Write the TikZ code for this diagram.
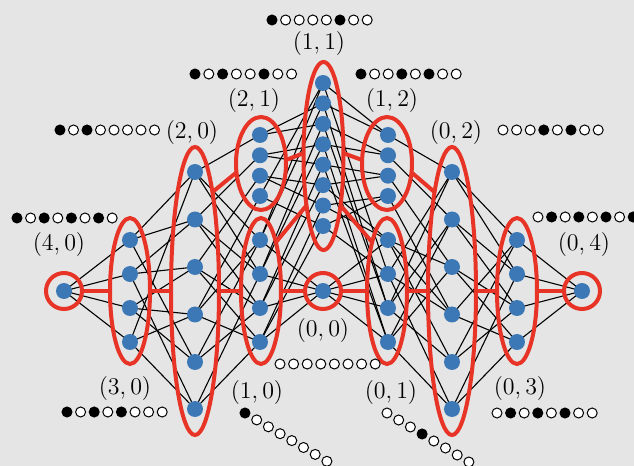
\documentclass[tikz,border=0pt]{standalone}
\usetikzlibrary{shapes.geometric,backgrounds}
\definecolor{bgc}{RGB}{229,229,229}
\definecolor{dotblue}{RGB}{59,120,181}
\definecolor{ringred}{RGB}{232,52,38}
\pgfdeclarelayer{edges}
\pgfsetlayers{background,edges,main}
\tikzset{
  site/.style={circle,fill=dotblue,inner sep=0pt,outer sep=0pt,minimum size=8pt},
  hop/.style={black,line width=0.55pt},
  sector/.style={ellipse,draw=ringred,line width=2pt,inner sep=0pt,outer sep=0pt},
  ring/.style={circle,draw=ringred,line width=2pt,inner sep=0pt,outer sep=0pt,minimum size=18pt},
  link/.style={ringred,line width=2pt},
  occ/.style={circle,draw=black,line width=0.5pt,inner sep=0pt,minimum size=5pt,fill=white},
  full/.style={occ,fill=black},
  lbl/.style={font=\fontsize{12}{14}\selectfont,inner sep=0pt},
}
\begin{document}
\begin{tikzpicture}[x=0.5pt,y=-0.5pt]
\begin{pgfonlayer}{background}
  \fill[bgc] (0,0) rectangle (634,466);
\end{pgfonlayer}
\useasboundingbox (0,0) rectangle (634,466);

% ---- sites (basis states), grouped by sector (n_even, n_odd)
\node[site] (s40) at (64,291) {};
\foreach \i/\yy in {1/240,2/274,3/308,4/342} \node[site] (s30-\i) at (130,\yy) {};
\foreach \i/\yy in {1/172,2/219.5,3/267,4/314.5,5/362,6/409} \node[site] (s20-\i) at (195,\yy) {};
\foreach \i/\yy in {1/240,2/274,3/308,4/342} \node[site] (s10-\i) at (260,\yy) {};
\foreach \i/\yy in {1/135,2/155.3,3/175.7,4/196} \node[site] (s21-\i) at (260,\yy) {};
\foreach \i/\yy in {1/83,2/103.4,3/123.9,4/144.3,5/164.7,6/185.1,7/205.6,8/226} \node[site] (s11-\i) at (323,\yy) {};
\node[site] (s00) at (323,291) {};
\foreach \i/\yy in {1/135,2/155.3,3/175.7,4/196} \node[site] (s12-\i) at (388,\yy) {};
\foreach \i/\yy in {1/240,2/274,3/308,4/342} \node[site] (s01-\i) at (388,\yy) {};
\foreach \i/\yy in {1/172,2/219.5,3/267,4/314.5,5/362,6/409} \node[site] (s02-\i) at (452,\yy) {};
\foreach \i/\yy in {1/240,2/274,3/308,4/342} \node[site] (s03-\i) at (517,\yy) {};
\node[site] (s04) at (582,291) {};

% ---- single-flip transitions
\begin{pgfonlayer}{edges}
\foreach \j in {1,...,4} \draw[hop] (s40.center) -- (s30-\j.center);
\foreach \a/\b in {1/1,1/2,1/5,2/2,2/3,2/6,3/3,3/4,3/5,4/1,4/4,4/6}
  \draw[hop] (s30-\a.center) -- (s20-\b.center);
\foreach \a/\b in {1/1,1/2,2/2,2/3,3/3,3/4,4/1,4/4,5/1,5/3,6/2,6/4}
  \draw[hop] (s20-\a.center) -- (s10-\b.center);
\foreach \j in {1,...,4} \draw[hop] (s10-\j.center) -- (s00.center);
\foreach \j in {1,...,4} \draw[hop] (s21-\j.center) -- (s20-\j.center);
\foreach \a/\b in {1/2,1/3,2/4,2/5,3/6,3/7,4/1,4/8}
  \draw[hop] (s21-\a.center) -- (s11-\b.center);
\foreach \a/\b in {1/1,1/2,2/3,2/4,3/5,3/6,4/7,4/8}
  \draw[hop] (s10-\a.center) -- (s11-\b.center);
\foreach \a/\b in {1/6,1/7,2/1,2/8,3/2,3/3,4/4,4/5}
  \draw[hop] (s01-\a.center) -- (s11-\b.center);
\foreach \a/\b in {1/1,1/2,2/3,2/4,3/5,3/6,4/7,4/8}
  \draw[hop] (s12-\a.center) -- (s11-\b.center);
\foreach \j in {1,...,4} \draw[hop] (s12-\j.center) -- (s02-\j.center);
\foreach \a/\b in {1/1,1/4,1/5,2/1,2/2,2/6,3/2,3/3,3/5,4/3,4/4,4/6}
  \draw[hop] (s03-\a.center) -- (s02-\b.center);
\foreach \a/\b in {1/2,1/3,2/3,2/4,3/1,3/4,4/1,4/2,5/1,5/3,6/2,6/4}
  \draw[hop] (s02-\a.center) -- (s01-\b.center);
\foreach \j in {1,...,4} \draw[hop] (s01-\j.center) -- (s00.center);
\foreach \j in {1,...,4} \draw[hop] (s03-\j.center) -- (s04.center);
\end{pgfonlayer}

% ---- sectors
\node[ring] (e40) at (64,291) {};
\node[sector,minimum width=20pt,minimum height=73pt] (e30) at (130,291) {};
\node[sector,minimum width=24pt,minimum height=144pt] (e20) at (195,291) {};
\node[sector,minimum width=20pt,minimum height=73pt] (e10) at (261,291) {};
\node[sector,minimum width=25pt,minimum height=46.5pt] (e21) at (261,163.5) {};
\node[sector,minimum width=20pt,minimum height=94pt] (e11) at (323.5,156) {};
\node[ring] (e00) at (323,291) {};
\node[sector,minimum width=25pt,minimum height=46.5pt] (e12) at (387,163.5) {};
\node[sector,minimum width=20pt,minimum height=73pt] (e01) at (387,291) {};
\node[sector,minimum width=24pt,minimum height=144pt] (e02) at (452,291) {};
\node[sector,minimum width=20pt,minimum height=73pt] (e03) at (517,291) {};
\node[ring] (e04) at (582,291) {};

% ---- couplings between sectors
\draw[link] (e40.east) -- (e30.west);
\draw[link] (e30.east) -- (e20.west);
\draw[link] (e20.east) -- (e10.west);
\draw[link] (e10.east) -- (e00.west);
\draw[link] (e00.east) -- (e01.west);
\draw[link] (e01.east) -- (e02.west);
\draw[link] (e02.east) -- (e03.west);
\draw[link] (e03.east) -- (e04.west);
\draw[link] (e20.80) -- (e21.200);
\draw[link] (e21.8) -- (e11.172);
\draw[link] (e10.73) -- (e11.251);
\draw[link] (e11.289) -- (e01.107);
\draw[link] (e11.8) -- (e12.172);
\draw[link] (e12.340) -- (e02.100);

% ---- sector labels
\node[lbl] (l40) at (59,244) {$(4,0)$};
\node[lbl] (l30) at (125,388) {$(3,0)$};
\node[lbl] (l20) at (192,133) {$(2,0)$};
\node[lbl] (l21) at (254,100) {$(2,1)$};
\node[lbl] (l10) at (257,393) {$(1,0)$};
\node[lbl] (l11) at (319,43) {$(1,1)$};
\node[lbl] (l00) at (323,330) {$(0,0)$};
\node[lbl] (l12) at (392,100) {$(1,2)$};
\node[lbl] (l01) at (391,393) {$(0,1)$};
\node[lbl] (l02) at (456,133) {$(0,2)$};
\node[lbl] (l03) at (520,388) {$(0,3)$};
\node[lbl] (l04) at (584,244) {$(0,4)$};

% ---- representative occupation patterns
\foreach \st [count=\i from 0] in {full,occ,full,occ,full,occ,full,occ}
  \node[\st] (o40-\i) at ({17+13.6*\i},218) {};
\foreach \st [count=\i from 0] in {full,occ,full,occ,full,occ,occ,occ}
  \node[\st] (o30-\i) at ({67+13.6*\i},412) {};
\foreach \st [count=\i from 0] in {full,occ,full,occ,occ,occ,occ,occ}
  \node[\st] (o20-\i) at ({60+13.5*\i},130) {};
\foreach \st [count=\i from 0] in {full,occ,full,occ,occ,full,occ,occ}
  \node[\st] (o21-\i) at ({195+13.8*\i},74) {};
\foreach \st [count=\i from 0] in {full,occ,occ,occ,occ,full,occ,occ}
  \node[\st] (o11-\i) at ({272+13.6*\i},20) {};
\foreach \st [count=\i from 0] in {full,occ,occ,full,occ,full,occ,occ}
  \node[\st] (o12-\i) at ({361+13.6*\i},74) {};
\foreach \st [count=\i from 0] in {occ,occ,occ,full,occ,full,occ,occ}
  \node[\st] (o02-\i) at ({503+13.6*\i},130) {};
\foreach \st [count=\i from 0] in {occ,full,occ,full,occ,full,occ,full}
  \node[\st] (o04-\i) at ({538+13.6*\i},217) {};
\foreach \st [count=\i from 0] in {occ,full,occ,full,occ,full,occ,occ}
  \node[\st] (o03-\i) at ({497+13.6*\i},413) {};
\foreach \st [count=\i from 0] in {occ,occ,occ,occ,occ,occ,occ,occ}
  \node[\st] (o00-\i) at ({280+13.6*\i},364) {};
\foreach \st [count=\i from 0] in {full,occ,occ,occ,occ,occ,occ,occ}
  \node[\st] (o10-\i) at ({245+11.7*\i},{413+6.9*\i}) {};
\foreach \st [count=\i from 0] in {occ,occ,occ,full,occ,occ,occ,occ}
  \node[\st] (o01-\i) at ({387+11.7*\i},{413+7*\i}) {};
\end{tikzpicture}
\end{document}
